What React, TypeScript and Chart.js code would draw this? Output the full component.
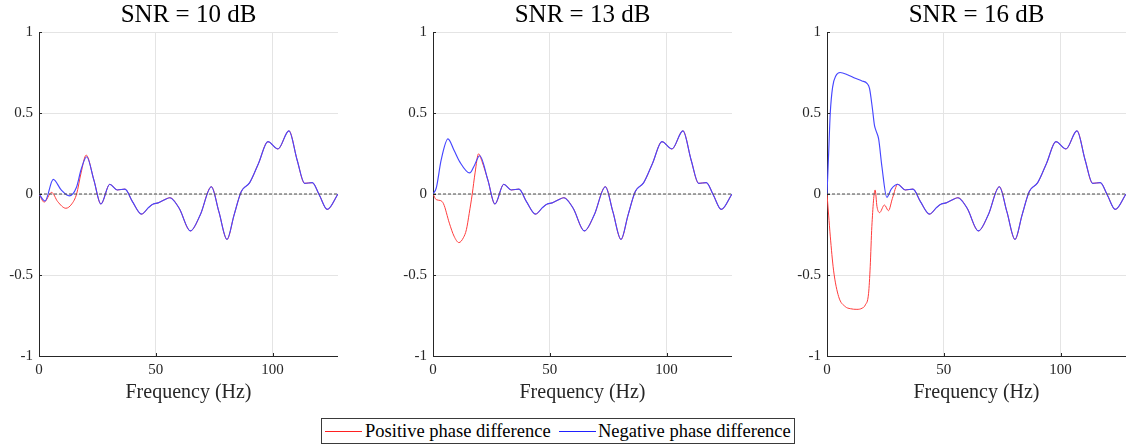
import React, { useEffect, useRef } from "react";
import { Chart, registerables } from "chart.js";

Chart.register(...registerables);
const FONT = "'Liberation Serif', 'Times New Roman', 'DejaVu Serif', serif";
Chart.defaults.font.family = FONT;

// ---------- data ----------
const snrTitles = ["SNR = 10 dB", "SNR = 13 dB", "SNR = 16 dB"];
const seriesNames = ["Positive phase difference", "Negative phase difference"];
const xTicks = [0, 50, 100];
const yTicks = [-1, -0.5, 0, 0.5, 1];
const yTickLabels = ["-1", "-0.5", "0", "0.5", "1"];
const xMax = 128;
const zeroFreq = [0, 128];

// shared part of the curves above ~30 Hz
const freqTail = [30.3, 33.5, 36.8, 40, 43.9, 47, 48.9, 51, 53.5, 56, 60, 64.8, 69, 73.8, 77, 80.5, 83.5, 86.6, 90.2, 94, 98, 102.3, 107, 110.5, 113.7, 117, 120, 123.4, 128];
const valueTail = [0.06, 0.025, 0.03, -0.047, -0.124, -0.082, -0.062, -0.055, -0.037, -0.023, -0.088, -0.228, -0.13, 0.045, -0.109, -0.28, -0.13, 0.015, 0.07, 0.19, 0.323, 0.278, 0.39, 0.21, 0.066, 0.07, -0.006, -0.095, 0];

// SNR = 10 dB
const freqPos10 = [0, 2.2, 5.4, 8, 11.5, 14, 16.1, 18, 20.2, 23.5, 26.5];
const valPos10 = [0, -0.05, 0.01, -0.047, -0.088, -0.062, 0.0, 0.13, 0.24, 0.086, -0.062];
const freqNeg10 = [0, 2.6, 6.1, 9.5, 12.95, 16, 18, 20.4, 23.5, 26.5];
const valNeg10 = [0, -0.043, 0.09, 0.025, -0.012, 0.04, 0.15, 0.23, 0.086, -0.062];

// SNR = 13 dB
const freqPos13 = [0, 1.4, 3.1, 4.5, 7, 9, 11.1, 13, 14.3, 15.5, 16.8, 18, 19.5, 21, 23.5, 26.5];
const valPos13 = [0, -0.035, -0.04, -0.06, -0.18, -0.26, -0.3, -0.27, -0.22, -0.12, 0, 0.13, 0.248, 0.2, 0.086, -0.062];
const freqNeg13 = [0, 1.4, 3.5, 6.4, 9, 11.4, 15.7, 17.5, 20, 23.5, 26.5];
const valNeg13 = [0, 0.037, 0.21, 0.34, 0.27, 0.2, 0.13, 0.17, 0.236, 0.086, -0.062];

// SNR = 16 dB
const freqPos16 = [0, 0.7, 1.4, 2.8, 5, 7.8, 10, 12.8, 15, 16.4, 17.8, 18.5, 19.2, 20.6, 21.4, 22.5, 24.6, 26.3, 28];
const valPos16 = [0, -0.13, -0.26, -0.47, -0.634, -0.695, -0.708, -0.712, -0.705, -0.685, -0.613, -0.449, -0.2, 0.025, -0.078, -0.115, -0.068, -0.103, -0.027];
const freqNeg16 = [0, 0.7, 1.4, 2.4, 3.8, 5.6, 9, 12.1, 15, 17.1, 18.2, 19.5, 20.3, 21, 22.1, 23.5, 25.6, 27.5];
const valNeg16 = [0, 0.25, 0.5, 0.66, 0.73, 0.75, 0.735, 0.714, 0.698, 0.683, 0.652, 0.52, 0.425, 0.39, 0.34, 0.17, -0.02, 0.03];

const panelData = [
  { posF: freqPos10, posV: valPos10, negF: freqNeg10, negV: valNeg10 },
  { posF: freqPos13, posV: valPos13, negF: freqNeg13, negV: valNeg13 },
  { posF: freqPos16, posV: valPos16, negF: freqNeg16, negV: valNeg16 },
];

// ---------- styling / layout ----------
const RED = "rgb(255,60,60)";
const BLUE = "rgb(70,70,255)";
const AXIS = "#262626";
const GRID = "#e4e4e4";
const Y_AXIS_W = 36;
const X_AXIS_H = 50;
const CANVAS_W = 335;
const CANVAS_H = 406;
const panelLefts = [3, 397, 791];

function toPoints(f: number[], v: number[]) {
  const head = f.map((x, i) => ({ x, y: v[i] }));
  const tail = freqTail.map((x, i) => ({ x, y: valueTail[i] }));
  return head.concat(tail);
}

// small inward tick marks (MATLAB style)
const inwardTicks = {
  id: "inwardTicks",
  afterDraw(chart: any) {
    const { ctx, chartArea, scales } = chart;
    ctx.save();
    ctx.strokeStyle = AXIS;
    ctx.lineWidth = 1;
    ctx.beginPath();
    xTicks.forEach((v) => {
      const px = Math.round(scales.x.getPixelForValue(v)) + 0.5;
      ctx.moveTo(px, chartArea.bottom);
      ctx.lineTo(px, chartArea.bottom - 3);
    });
    yTicks.forEach((v) => {
      const py = Math.round(scales.y.getPixelForValue(v)) + 0.5;
      ctx.moveTo(chartArea.left, py);
      ctx.lineTo(chartArea.left + 3, py);
    });
    ctx.stroke();
    ctx.restore();
  },
};

function Panel(props: { idx: number }) {
  const ref = useRef<HTMLCanvasElement>(null);
  useEffect(() => {
    const d = panelData[props.idx];
    const chart = new Chart(ref.current as HTMLCanvasElement, {
      type: "line",
      data: {
        datasets: [
          {
            label: "zero",
            data: zeroFreq.map((x) => ({ x, y: 0 })),
            borderColor: "#4d4d4d",
            borderDash: [3, 2],
            borderWidth: 1,
            pointRadius: 0,
            order: -1,
          },
          {
            label: seriesNames[0],
            data: toPoints(d.posF, d.posV),
            borderColor: RED,
            borderWidth: 1,
            pointRadius: 0,
            cubicInterpolationMode: "monotone",
            order: 1,
          },
          {
            label: seriesNames[1],
            data: toPoints(d.negF, d.negV),
            borderColor: BLUE,
            borderWidth: 1.15,
            pointRadius: 0,
            cubicInterpolationMode: "monotone",
            order: 0,
          },
        ],
      },
      options: {
        responsive: false,
        maintainAspectRatio: false,
        animation: false,
        layout: { padding: 0 },
        plugins: {
          legend: { display: false },
          tooltip: { enabled: false },
          title: {
            display: true,
            text: snrTitles[props.idx],
            fullSize: false,
            color: "#000",
            font: { family: FONT, size: 25, weight: "normal", lineHeight: 1.2 },
            padding: { top: 0, bottom: 2 },
          },
        },
        scales: {
          x: {
            type: "linear",
            min: 0,
            max: xMax,
            afterBuildTicks: (s: any) => {
              s.ticks = xTicks.map((v) => ({ value: v }));
            },
            afterFit: (s: any) => {
              s.height = X_AXIS_H;
            },
            grid: { color: GRID, drawTicks: false },
            border: { color: AXIS, width: 1 },
            ticks: {
              padding: 5,
              color: AXIS,
              font: { family: FONT, size: 15 },
              maxRotation: 0,
              callback: (_v: any, i: number) => String(xTicks[i]),
            },
            title: {
              display: true,
              text: "Frequency (Hz)",
              color: AXIS,
              font: { family: FONT, size: 20, lineHeight: 1.2 },
              padding: { top: 0, bottom: 1 },
            },
          },
          y: {
            type: "linear",
            min: -1,
            max: 1,
            afterBuildTicks: (s: any) => {
              s.ticks = yTicks.map((v) => ({ value: v }));
            },
            afterFit: (s: any) => {
              s.width = Y_AXIS_W;
            },
            grid: { color: GRID, drawTicks: false },
            border: { color: AXIS, width: 1 },
            ticks: {
              padding: 6,
              color: AXIS,
              font: { family: FONT, size: 15 },
              callback: (_v: any, i: number) => yTickLabels[i],
            },
          },
        },
      },
      plugins: [inwardTicks],
    } as any);
    return () => chart.destroy();
  }, [props.idx]);
  return (
    <canvas
      ref={ref}
      width={CANVAS_W}
      height={CANVAS_H}
      style={{ position: "absolute", left: panelLefts[props.idx], top: 0, width: CANVAS_W, height: CANVAS_H }}
    />
  );
}

function Legend() {
  const line = (color: string, left: number) => (
    <div style={{ position: "absolute", left, top: 12, width: 37, height: 1, backgroundColor: color }} />
  );
  const label = (text: string, left: number) => (
    <div style={{ position: "absolute", left, top: 0, height: 24, lineHeight: "24px", whiteSpace: "nowrap" }}>{text}</div>
  );
  return (
    <div
      style={{
        position: "absolute",
        left: 321,
        top: 418,
        width: 472,
        height: 24,
        border: "1px solid #3a3a3a",
        fontFamily: FONT,
        fontSize: 18.5,
        color: "#000",
      }}
    >
      {line("#ff2020", 3)}
      {label(seriesNames[0], 43)}
      {line("#2020ff", 237)}
      {label(seriesNames[1], 276)}
    </div>
  );
}

export default function App() {
  return (
    <div style={{ position: "fixed", left: 0, top: 0, width: 1126, height: 446, overflow: "hidden", background: "#fff" }}>
      <Panel idx={0} />
      <Panel idx={1} />
      <Panel idx={2} />
      <Legend />
    </div>
  );
}
